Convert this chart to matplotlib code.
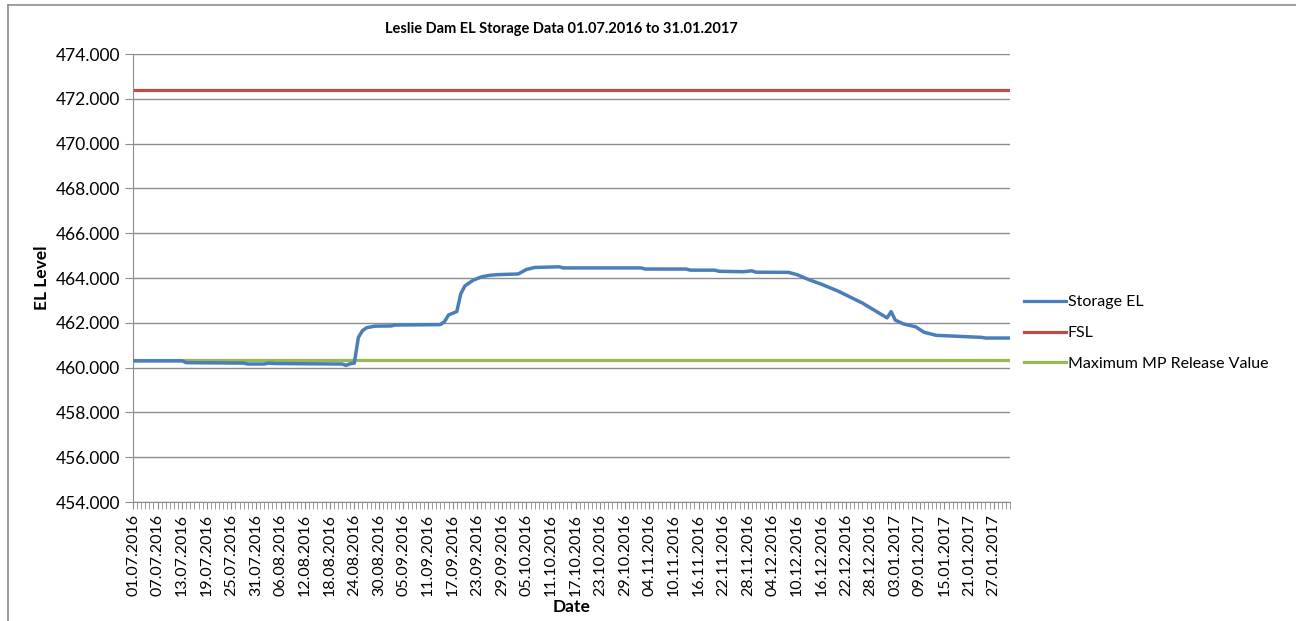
import pandas as pd
import matplotlib
matplotlib.use("Agg")
import matplotlib.pyplot as plt
from matplotlib.lines import Line2D

plt.rcParams["font.family"] = ["Lato", "DejaVu Sans"]

# daily category axis, 01.07.2016 .. 31.01.2017
START, END = "2016-07-01", "2017-01-31"

# storage EL (date, level)
storage_dates = [
    "2016-07-01", "2016-07-13", "2016-07-14", "2016-07-28", "2016-07-29",
    "2016-08-02", "2016-08-03", "2016-08-05", "2016-08-21", "2016-08-22",
    "2016-08-23", "2016-08-24", "2016-08-25", "2016-08-26", "2016-08-27",
    "2016-08-29", "2016-09-02", "2016-09-03", "2016-09-14", "2016-09-15",
    "2016-09-16", "2016-09-18", "2016-09-19", "2016-09-20", "2016-09-22",
    "2016-09-24", "2016-09-26", "2016-09-28", "2016-10-03", "2016-10-05",
    "2016-10-07", "2016-10-13", "2016-10-14", "2016-11-02", "2016-11-03",
    "2016-11-13", "2016-11-14", "2016-11-20", "2016-11-21", "2016-11-27",
    "2016-11-29", "2016-11-30", "2016-12-08", "2016-12-10", "2016-12-13",
    "2016-12-16", "2016-12-20", "2016-12-23", "2016-12-26", "2016-12-29",
    "2017-01-01", "2017-01-02", "2017-01-03", "2017-01-05", "2017-01-08",
    "2017-01-10", "2017-01-13", "2017-01-18", "2017-01-24", "2017-01-25",
    "2017-01-31",
]
storage_el = [
    460.30, 460.30, 460.22, 460.20, 460.16,
    460.16, 460.20, 460.18, 460.16, 460.10,
    460.17, 460.20, 461.35, 461.65, 461.78,
    461.85, 461.86, 461.90, 461.92, 462.05,
    462.35, 462.50, 463.30, 463.65, 463.90,
    464.05, 464.12, 464.15, 464.18, 464.38,
    464.47, 464.50, 464.45, 464.45, 464.40,
    464.40, 464.35, 464.35, 464.30, 464.28,
    464.32, 464.26, 464.25, 464.15, 463.92,
    463.72, 463.42, 463.15, 462.88, 462.55,
    462.22, 462.50, 462.12, 461.95, 461.82,
    461.58, 461.44, 461.40, 461.35, 461.32,
    461.32,
]

FSL = 472.40
MAX_MP_RELEASE = 460.32

BLUE = "#4A7EBB"
RED = "#BE4B48"
GREEN = "#98B954"
GRID = "#8C8C8C"

days = pd.date_range(START, END, freq="D")
day_idx = {d: i for i, d in enumerate(days)}
xs = [day_idx[pd.Timestamp(d)] for d in storage_dates]
n = len(days)

fig = plt.figure(figsize=(12.96, 6.21), dpi=100)
ax = fig.add_axes([133 / 1296, 1 - 502 / 621, 877 / 1296, 448 / 621])

ax.plot(xs, storage_el, color=BLUE, lw=2.5, solid_joinstyle="round", zorder=3)
ax.plot([0, n - 1], [FSL, FSL], color=RED, lw=2.3, zorder=2)
ax.plot([0, n - 1], [MAX_MP_RELEASE, MAX_MP_RELEASE], color=GREEN, lw=2.3, zorder=2)

ax.set_xlim(0, n - 1)
ax.set_ylim(454, 474)
ax.set_yticks(range(454, 475, 2))
ax.set_yticklabels([f"{v:.3f}" for v in range(454, 475, 2)], fontsize=12.5)
ax.grid(axis="y", color=GRID, lw=1)
ax.set_axisbelow(True)

major = list(range(0, n, 6))
ax.set_xticks(major)
ax.set_xticklabels([days[i].strftime("%d.%m.%Y") for i in major],
                   rotation=90, fontsize=11.5)
ax.set_xticks(range(n), minor=True)
ax.tick_params(axis="x", which="both", length=5, color=GRID, direction="out")
ax.tick_params(axis="y", length=6, color=GRID)

for s in ["top", "right"]:
    ax.spines[s].set_visible(False)
for s in ["left", "bottom"]:
    ax.spines[s].set_color(GRID)

ax.set_xlabel("Date", fontsize=12.5, fontweight="bold", labelpad=2)
ax.set_ylabel("EL Level", fontsize=12.5, fontweight="bold", labelpad=4)
ax.set_title("Leslie Dam EL Storage Data 01.07.2016 to 31.01.2017",
             fontsize=10.5, fontweight="bold", pad=15, x=0.489)

handles = [Line2D([], [], color=c, lw=2.3) for c in (BLUE, RED, GREEN)]
fig.legend(handles, ["Storage EL", "FSL", "Maximum MP Release Value"],
           loc="center left", bbox_to_anchor=(1024 / 1296, 1 - 333 / 621),
           frameon=False, fontsize=11.5, handlelength=2.6, handletextpad=0.15,
           labelspacing=1.05, borderpad=0, borderaxespad=0)

# chart area border
fig.add_artist(Line2D([8 / 1296, 1], [1 - 5 / 621, 1 - 5 / 621],
                      transform=fig.transFigure, color=GRID, lw=1.2))
fig.add_artist(Line2D([8 / 1296, 8 / 1296], [0, 1 - 5 / 621],
                      transform=fig.transFigure, color=GRID, lw=1.2))

fig.savefig("out.png", dpi=100)
